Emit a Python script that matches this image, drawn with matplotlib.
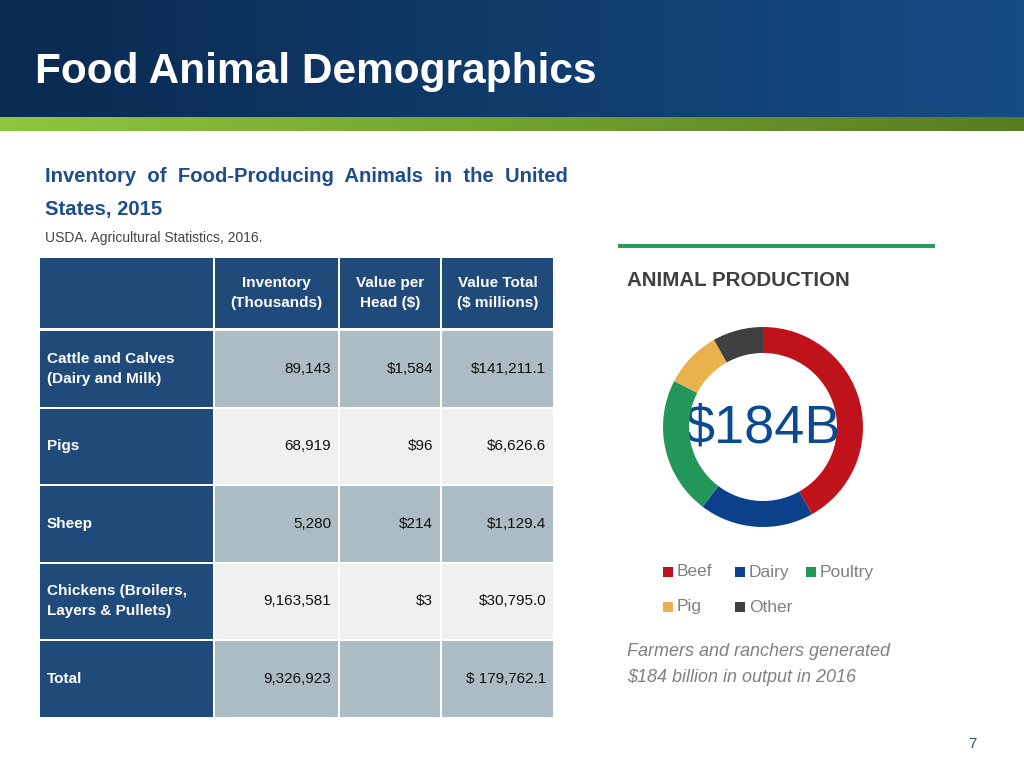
import numpy as np
import matplotlib.pyplot as plt
from matplotlib.patches import Rectangle

# --- table data ---
col_headers = ["Inventory\n(Thousands)", "Value per\nHead ($)", "Value Total\n($ millions)"]
row_labels = ["Cattle and Calves\n(Dairy and Milk)", "Pigs", "Sheep",
              "Chickens (Broilers,\nLayers & Pullets)", "Total"]
inventory = ["89,143", "68,919", "5,280", "9,163,581", "9,326,923"]
value_per_head = ["$1,584", "$96", "$214", "$3", ""]
value_total = ["$141,211.1", "$6,626.6", "$1,129.4", "$30,795.0", "$ 179,762.1"]

# --- donut data ($ billions) ---
segments = ["Beef", "Dairy", "Poultry", "Pig", "Other"]
seg_values = [77, 34, 41, 17, 15]
seg_colors = ["#c0121b", "#0b418a", "#239659", "#e8b34f", "#404040"]

W, H = 1024, 768
fig = plt.figure(figsize=(W / 100, H / 100), dpi=100)
bg = fig.add_axes([0, 0, 1, 1])
bg.set_xlim(0, W)
bg.set_ylim(H, 0)
bg.axis("off")

arial = ["Liberation Sans", "DejaVu Sans"]

# --- header band with gradient ---
def gradient(c1, c2, n=256):
    c1 = np.array(c1) / 255
    c2 = np.array(c2) / 255
    t = np.linspace(0, 1, n)[:, None]
    return (c1 + (c2 - c1) * t)[None, :, :]

bg.imshow(gradient((10, 42, 80), (22, 76, 133)), extent=[0, W, 117, 0], aspect="auto")
bg.imshow(gradient((141, 198, 63), (88, 124, 34)), extent=[0, W, 131, 117], aspect="auto")
bg.set_xlim(0, W)
bg.set_ylim(H, 0)
bg.text(35, 72, "Food Animal Demographics", color="white", fontsize=30.5,
        fontweight="bold", family=arial, va="center", ha="left")

# --- left title ---
bg.text(45, 176, "Inventory  of  Food-Producing  Animals  in  the  United", color="#1d4d8c",
        fontsize=14.6, fontweight="bold", family=arial, va="center")
bg.text(45, 210, "States, 2015", color="#1d4d8c", fontsize=14.6, fontweight="bold",
        family=arial, va="center")
bg.text(45, 238, "USDA. Agricultural Statistics, 2016.", color="#444444", fontsize=10,
        family=arial, va="center")

# --- table ---
dark = "#1f4a7a"
shade = ["#acbcc4", "#eff0f0"]
col_x = [40, 215, 340, 442]
col_w = [173, 123, 100, 111]
head_top, head_h = 258, 70
row_top0, row_h, gap = 331, 75.5, 2.0

for j in range(4):
    bg.add_patch(Rectangle((col_x[j], head_top), col_w[j], head_h, color=dark, lw=0))
for j, lab in enumerate(col_headers):
    bg.text(col_x[j + 1] + col_w[j + 1] / 2, head_top + head_h / 2, lab, color="white",
            fontsize=11, fontweight="bold", family=arial, ha="center", va="center",
            linespacing=1.55)

columns = [inventory, value_per_head, value_total]
for i, lab in enumerate(row_labels):
    top = row_top0 + i * (row_h + gap)
    cy = top + row_h / 2
    bg.add_patch(Rectangle((col_x[0], top), col_w[0], row_h, color=dark, lw=0))
    bg.text(47, cy, lab, color="white", fontsize=11, fontweight="bold", family=arial,
            ha="left", va="center", linespacing=1.55)
    for j, col in enumerate(columns):
        bg.add_patch(Rectangle((col_x[j + 1], top), col_w[j + 1], row_h,
                               color=shade[i % 2], lw=0))
        bg.text(col_x[j + 1] + col_w[j + 1] - 7, cy, col[i], color="#111111",
                fontsize=11, family=arial, ha="right", va="center")

# --- right panel ---
bg.plot([618, 935], [246, 246], color="#2e9b5e", lw=3, solid_capstyle="butt")
bg.text(627, 281, "ANIMAL PRODUCTION", color="#3f3f3f", fontsize=14.8, fontweight="bold",
        family=arial, va="center")

cx, cy, r = 763, 427, 100
dax = fig.add_axes([(cx - r) / W, (H - cy - r) / H, 2 * r / W, 2 * r / H])
dax.pie(seg_values, colors=seg_colors, startangle=90, counterclock=False, radius=1,
        wedgeprops=dict(width=0.26, linewidth=0))
dax.set_xlim(-1, 1)
dax.set_ylim(-1, 1)
dax.set_aspect("equal")
dax.axis("off")
bg.text(cx, cy + 2, "$184B", color="#0b4a8f", fontsize=39, family=arial,
        ha="center", va="center")

# legend
leg_pos = [(663, 572), (735, 572), (806, 572), (663, 607), (735, 607)]
for (lx, ly), name, c in zip(leg_pos, segments, seg_colors):
    bg.add_patch(Rectangle((lx, ly - 5), 10, 10, color=c, lw=0))
    bg.text(lx + 14, ly, name, color="#808080", fontsize=12.5, family=arial, va="center")

bg.text(627, 652, "Farmers and ranchers generated", color="#808080", fontsize=13,
        style="italic", family=arial, va="center")
bg.text(627, 678, "$184 billion in output in 2016", color="#808080", fontsize=13,
        style="italic", family=arial, va="center")

bg.text(972, 744, "7", color="#3a4f6e", fontsize=11, family=arial, ha="center", va="center")

fig.savefig("out.png", dpi=100)
